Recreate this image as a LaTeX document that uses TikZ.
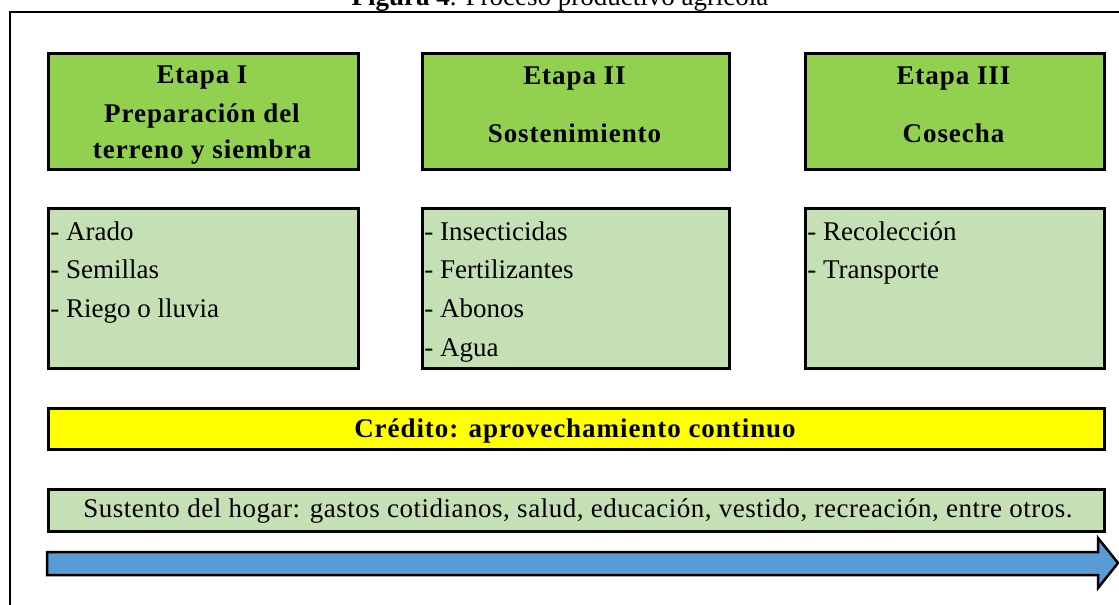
\documentclass[tikz,border=0pt]{standalone}
\usepackage{fontspec}
\setmainfont{Liberation Serif}
\newfontfamily\wideb[LetterSpace=3.5]{Liberation Serif}
\newfontfamily\widen[LetterSpace=1.9]{Liberation Serif}
\definecolor{hgreen}{HTML}{92D050}
\definecolor{lgreen}{HTML}{C5E0B4}
\definecolor{ablue}{HTML}{5B9BD5}
\definecolor{ayellow}{HTML}{FFFF00}
\begin{document}
\begin{tikzpicture}[x=0.5pt,y=-0.5pt,
  boxs/.style={draw=black, line width=1.5pt, inner sep=0pt, anchor=north west},
  hdr/.style={boxs, fill=hgreen, minimum height=58pt},
  lst/.style={boxs, fill=lgreen, minimum height=80pt},
  tb/.style={anchor=base, font=\fontsize{13.5}{16}\selectfont\wideb\bfseries, inner sep=0pt},
  tl/.style={anchor=base west, font=\fontsize{13.5}{16}\selectfont, inner sep=0pt},
  tc/.style={anchor=base, font=\fontsize{13.5}{16}\selectfont, inner sep=0pt},
]
\useasboundingbox (0,0) rectangle (1119,605);
% title and frame
\node[tc] (title) at (560,5) {\textbf{Figura 4}. Proceso productivo agrícola};
\coordinate (ftl) at (10,12);
\coordinate (ftr) at (1119,12);
\coordinate (fbl) at (10,605);
\draw[line width=1pt] (ftr) -- (ftl) -- (fbl);
% header boxes
\node[hdr, minimum width=155pt] (h1) at (47,52) {};
\node[hdr, minimum width=153.5pt] (h2) at (421,52) {};
\node[hdr, minimum width=149.5pt] (h3) at (804,52) {};
\node[tb] (h1a) at (202,83) {Etapa I};
\node[tb] (h1b) at (202,122) {Preparación del};
\node[tb] (h1c) at (202,158) {terreno y siembra};
\node[tb] (h2a) at (574.5,84) {Etapa II};
\node[tb] (h2b) at (574.5,142) {Sostenimiento};
\node[tb] (h3a) at (953.5,84) {Etapa III};
\node[tb] (h3b) at (953.5,142) {Cosecha};
% list boxes
\node[lst, minimum width=155pt] (b1) at (47,207) {};
\node[lst, minimum width=153.5pt] (b2) at (421,207) {};
\node[lst, minimum width=149.5pt] (b3) at (804,207) {};
\node[tl] (b1a) at (50,240) {- Arado};
\node[tl] (b1b) at (50,278) {- Semillas};
\node[tl] (b1c) at (50,317) {- Riego o lluvia};
\node[tl] (b2a) at (424,240) {- Insecticidas};
\node[tl] (b2b) at (424,278) {- Fertilizantes};
\node[tl] (b2c) at (424,317) {- Abonos};
\node[tl] (b2d) at (424,356) {- Agua};
\node[tl] (b3a) at (807,240) {- Recolección};
\node[tl] (b3b) at (807,278) {- Transporte};
% bars
\node[boxs, fill=ayellow, minimum width=528pt, minimum height=20.5pt] (cr) at (47,407) {};
\node[tb] (crt) at (575,437) {Crédito: aprovechamiento continuo};
\node[boxs, fill=lgreen, minimum width=528pt, minimum height=21pt] (su) at (47,488) {};
\node[tc, font=\fontsize{13.5}{16}\selectfont\widen] (sut) at (578,517) {Sustento del hogar: gastos cotidianos, salud, educación, vestido, recreación, entre otros.};
% arrow
\draw[line width=1.25pt, fill=ablue, line join=miter]
  (47,552) -- (1098,552) -- (1098,538) -- (1118,563) -- (1098,588) -- (1098,575) -- (47,575) -- cycle;
\end{tikzpicture}
\end{document}
